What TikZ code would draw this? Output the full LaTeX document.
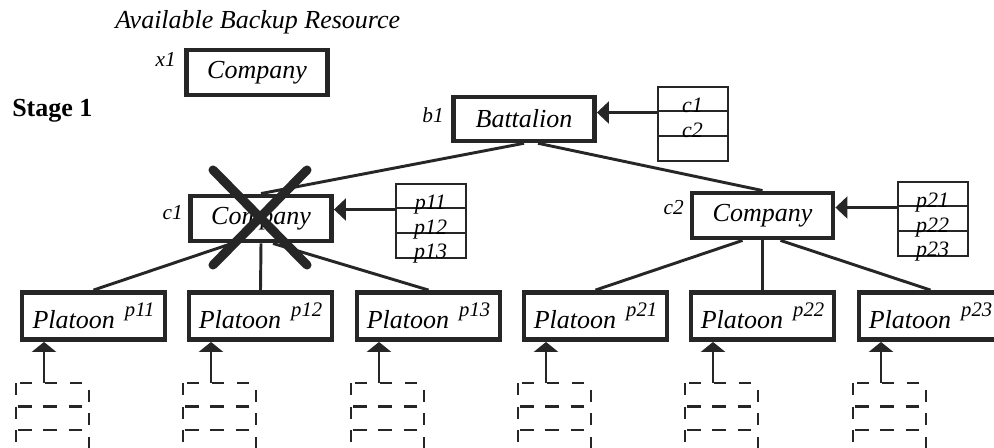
\documentclass[tikz,border=0pt]{standalone}
\usepackage{fontspec}
\setmainfont{Liberation Serif}
\usetikzlibrary{arrows.meta,calc}

\begin{document}
\begin{tikzpicture}[x=0.75pt,y=-0.75pt,
  unitbox/.style={draw=black!85, line width=3.4pt, fill=white, inner sep=0pt,
    font=\fontsize{19.5}{23}\selectfont\itshape},
  companybox/.style={unitbox, minimum width=106pt, minimum height=34pt},
  platoonbox/.style={unitbox, minimum width=107pt, minimum height=35.5pt},
  idlabel/.style={anchor=base east, inner sep=0pt, font=\fontsize{16}{19}\selectfont\itshape},
  listcell/.style={draw=black!85, line width=1.5pt, fill=white, minimum width=52.5pt,
    minimum height=18.4pt, inner sep=0pt},
  listentry/.style={anchor=base, inner sep=0pt, font=\fontsize{16.5}{19}\selectfont\itshape},
  treeline/.style={draw=black!85, line width=2.2pt},
  feedarrow/.style={draw=black!85, line width=1.9pt, -{Triangle[length=9pt,width=16.5pt]}},
  uparrow/.style={draw=black!85, line width=1.9pt, -{Triangle[length=7.5pt,width=18pt]}},
  reservebox/.style={draw=black!85, line width=1.9pt, dash pattern=on 9pt off 10pt},
  crossout/.style={draw=black!85, line width=6.8pt, line cap=round},
]
\useasboundingbox (0,0) rectangle (994,448);
\clip (0,0) rectangle (994,448);

% headings
\node[anchor=base west, inner sep=0pt, font=\fontsize{19.5}{23}\selectfont\itshape]
  (backup) at (115,29) {Available Backup Resource};
\node[anchor=base west, inner sep=0pt, font=\fontsize{19.5}{23}\selectfont\bfseries]
  (stage) at (12,117) {Stage 1};

% spare company
\node[companybox] (x1) at (257,72.5) {Company};
\node[idlabel] (x1lab) at (176,67) {x1};

% battalion and companies
\node[unitbox, minimum width=106pt, minimum height=33pt] (b1) at (524,119) {Battalion};
\node[idlabel] (b1lab) at (444,123) {b1};
\node[companybox] (c1) at (261,218.5) {Company};
\node[idlabel] (c1lab) at (183,220) {c1};
\node[companybox] (c2) at (762.5,215.5) {Company};
\node[idlabel] (c2lab) at (684,215) {c2};

% platoons
\foreach \n/\l in {p11/20, p12/187, p13/355, p21/522, p22/689, p23/857}{
  \node[platoonbox] (\n) at (\l+73.5,316)
    {Platoon\hspace{7.5pt}\raisebox{9pt}{\fontsize{15.5}{18}\selectfont \n}};
}

% subordinate lists
\node[listcell] (lba) at (692.5,99.25) {};
\node[listcell] (lbb) at (692.5,123.75) {};
\node[listcell] (lbc) at (692.5,148.25) {};
\node[listentry] at (lba.south) {c1};
\node[listentry] at (lbb.south) {c2};

\node[listcell] (lca) at (430.5,196.25) {};
\node[listcell] (lcb) at (430.5,220.75) {};
\node[listcell] (lcc) at (430.5,245.25) {};
\node[listentry] at (lca.south) {p11};
\node[listentry] at (lcb.south) {p12};
\node[listentry] at (lcc.south) {p13};

\node[listcell] (lda) at (932.5,194.25) {};
\node[listcell] (ldb) at (932.5,218.75) {};
\node[listcell] (ldc) at (932.5,243.25) {};
\node[listentry] at (lda.south) {p21};
\node[listentry] at (ldb.south) {p22};
\node[listentry] at (ldc.south) {p23};

% list feeds
\draw[feedarrow] (lba.south west) -- (lba.south west -| b1.east);
\draw[feedarrow] (lca.south west) -- (lca.south west -| c1.east);
\draw[feedarrow] (lda.south west) -- (lda.south west -| c2.east);

% hierarchy
\draw[treeline] (b1.south) -- (c1.north);
\draw[treeline] ($(b1.south)+(14,0)$) -- (c2.north);
\draw[treeline] ($(c1.south)+(-29,0)$) -- (p11.north);
\draw[treeline] (c1.south) -- (p12.north);
\draw[treeline] ($(c1.south)+(12,0)$) -- (p13.north);
\draw[treeline] ($(c2.south)+(-20,0)$) -- (p21.north);
\draw[treeline] (c2.south) -- (p22.north);
\draw[treeline] ($(c2.south)+(18,0)$) -- (p23.north);

% reserve slots below each platoon
\foreach \n/\l in {p11/20, p12/187, p13/355, p21/522, p22/689, p23/857}{
  \foreach \r in {0,1,2}{
    \draw[reservebox] (\l-4,383+\r*23.5) rectangle ++(73,23.5);
  }
  \coordinate (r\n) at (\l+24,383);
  \draw[uparrow] (r\n) -- (r\n |- \n.south);
}

% lost company
\draw[crossout] (213,170) -- (307,265);
\draw[crossout] (307,170) -- (213,265);
\end{tikzpicture}
\end{document}
